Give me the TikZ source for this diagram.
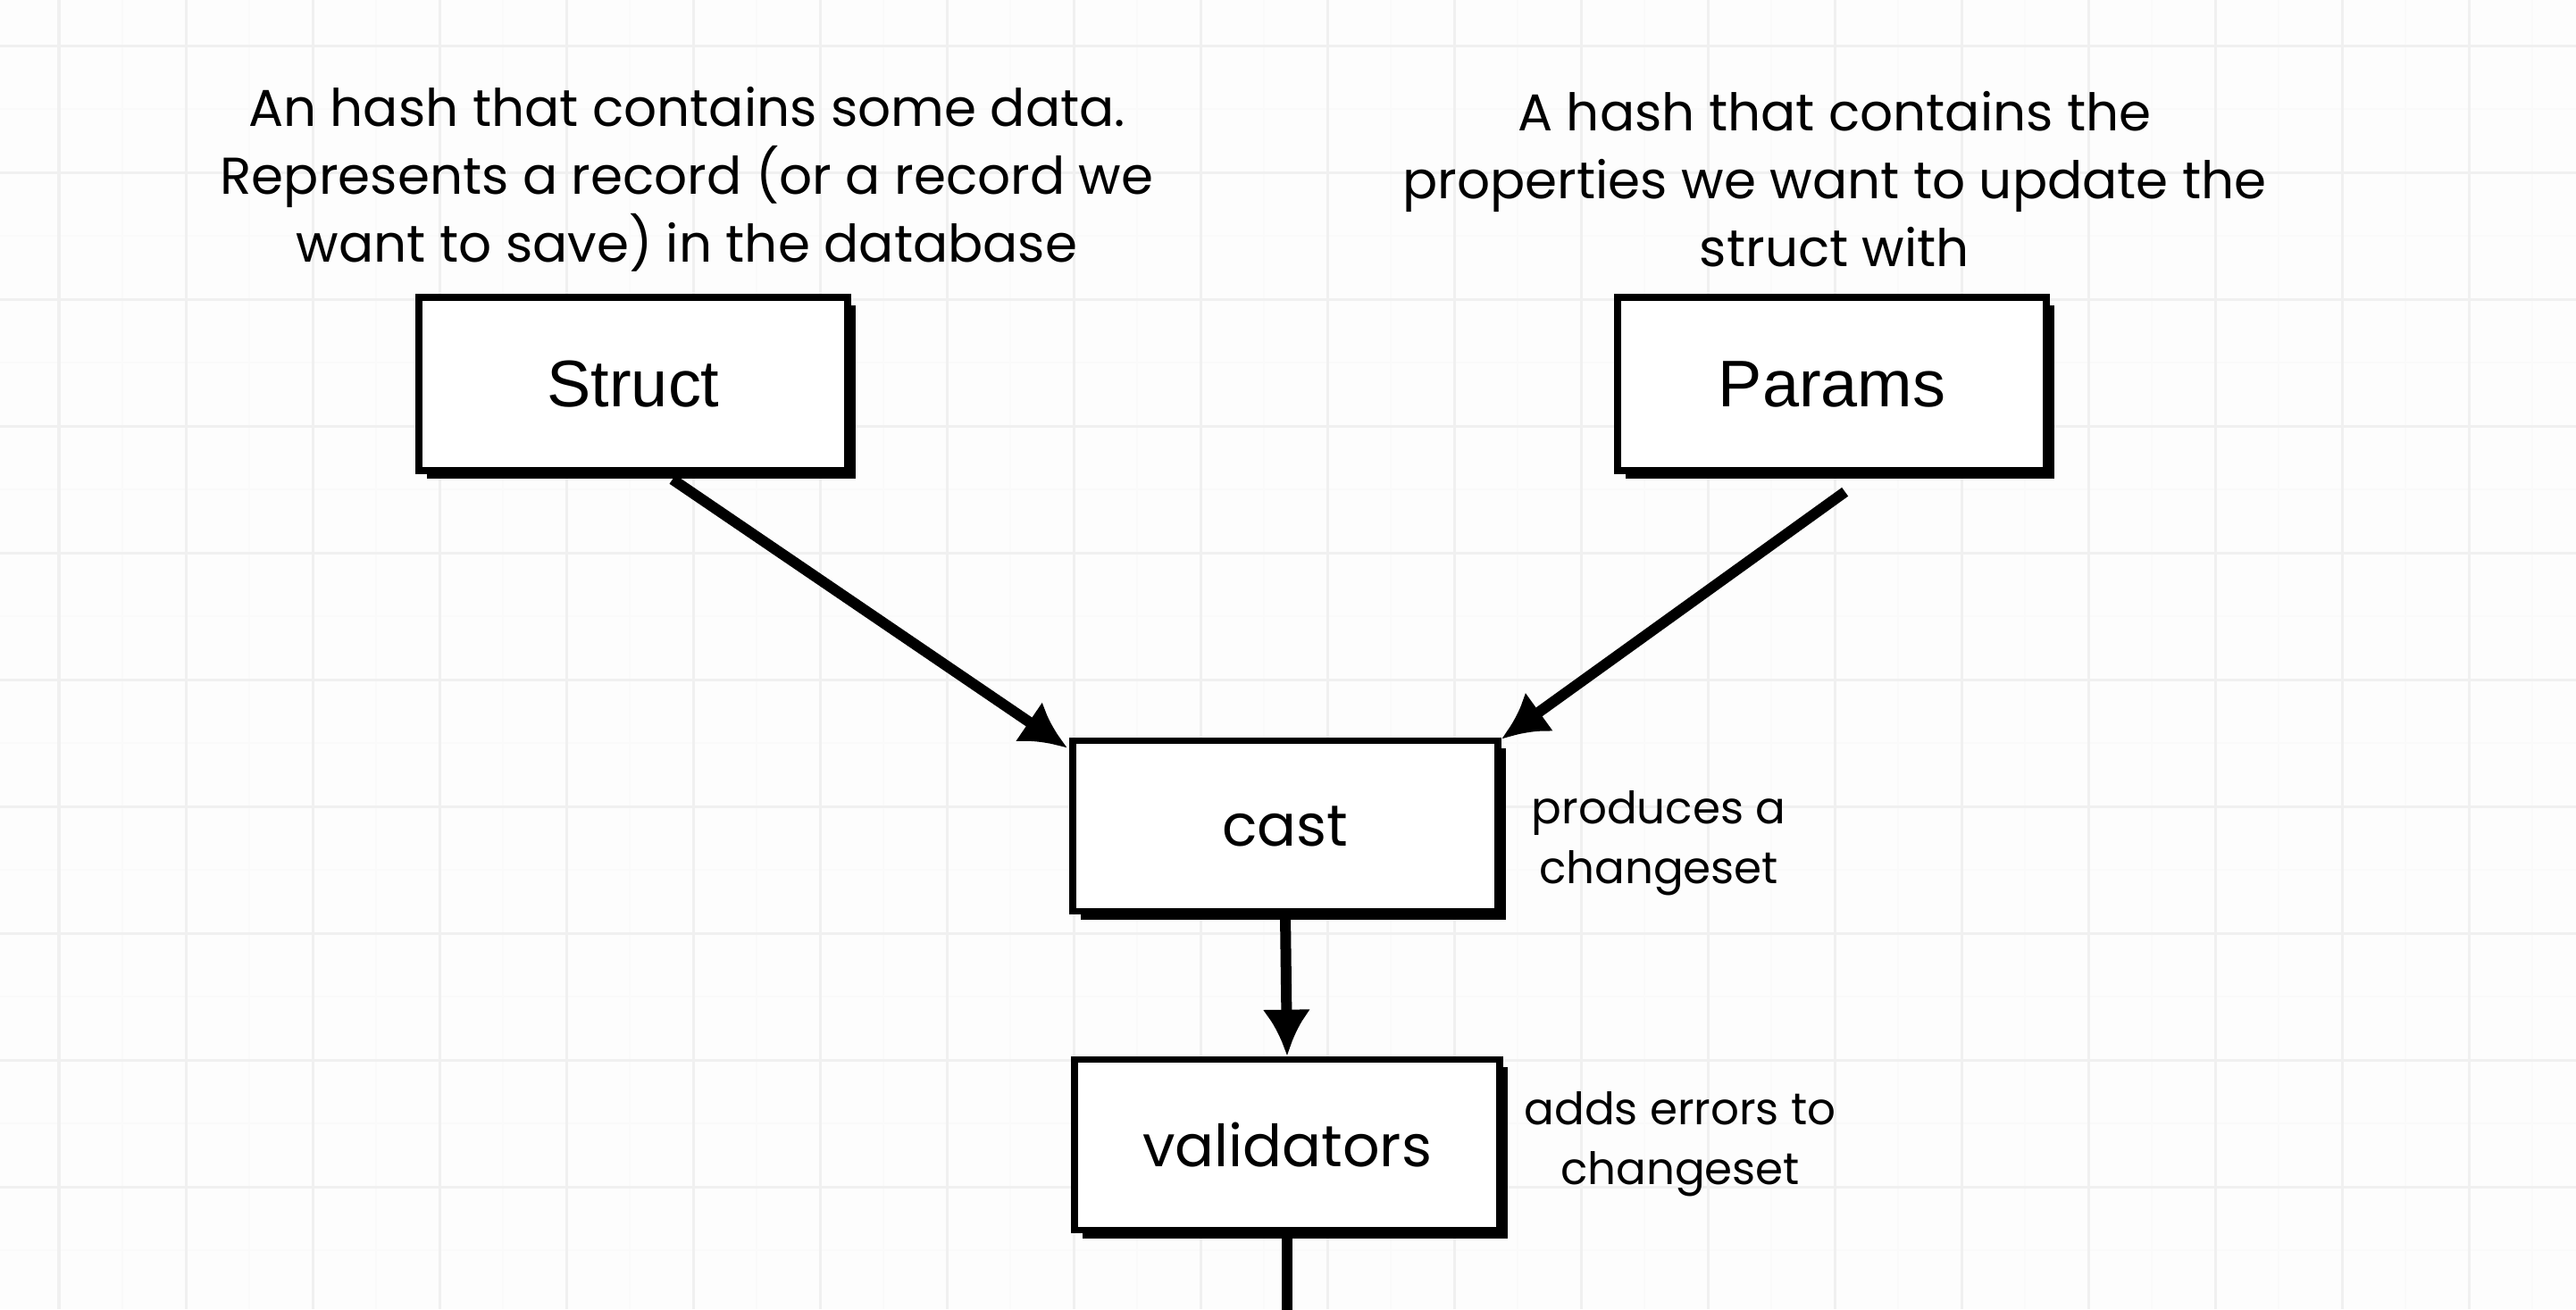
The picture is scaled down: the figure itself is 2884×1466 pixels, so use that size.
\documentclass[tikz,border=0pt]{standalone}
\usepackage{fontspec}
\setmainfont{Liberation Sans}
\newfontfamily\handfont{Poppins}
\usetikzlibrary{arrows.meta,calc,shadows}
\definecolor{bgcol}{HTML}{FDFDFD}
\definecolor{gridmaj}{HTML}{F0F0F0}
\definecolor{gridmin}{HTML}{FAFAFA}
\begin{document}
\begin{tikzpicture}[x=0.01cm,y=-0.01cm,
  box/.style={draw=black, line width=0.075cm, fill=white, inner sep=0pt,
    drop shadow={shadow xshift=0.09cm, shadow yshift=-0.09cm, fill=black, opacity=1}},
  bigbox/.style={box, minimum width=4.80cm, minimum height=1.94cm},
  smallbox/.style={box, minimum width=4.76cm, minimum height=1.91cm},
  arr/.style={line width=0.12cm, -{Latex[length=0.52cm,width=0.54cm]}},
  plain/.style={line width=0.12cm},
  note/.style={align=center, font=\handfont\fontsize{16.5}{21.6}\selectfont, inner sep=0pt},
  side/.style={align=center, font=\handfont\fontsize{14.2}{19}\selectfont, inner sep=0pt},
  boxlabel/.style={font=\fontsize{21}{25}\selectfont},
  handlabel/.style={font=\handfont\fontsize{18.5}{23}\selectfont}
]
\useasboundingbox (0,0) rectangle (2884,1466);
\fill[bgcol] (0,0) rectangle (2884,1466);
\foreach \gx in {-5,137,...,2900} {\draw[gridmin, line width=0.02cm] (\gx,0) -- (\gx,1466);}
\foreach \gy in {-20,122,...,1480} {\draw[gridmin, line width=0.02cm] (0,\gy) -- (2884,\gy);}
\foreach \gx in {66,208,...,2900} {\draw[gridmaj, line width=0.03cm] (\gx,0) -- (\gx,1466);}
\foreach \gy in {51,193,...,1480} {\draw[gridmaj, line width=0.03cm] (0,\gy) -- (2884,\gy);}

\node[note] (t1) at (769,201) {An hash that contains some data.\\Represents a record (or a record we\\want to save) in the database};
\node[note] (t2) at (2054,201) {A hash that contains the\\properties we want to update the\\struct with};

\node[bigbox] (struct) at (709,430) {};
\node[boxlabel] (structlbl) at (struct) {Struct};
\node[bigbox] (params) at (2051,430) {};
\node[boxlabel] (paramslbl) at (params) {Params};
\node[smallbox] (cast) at (1439,925) {};
\node[handlabel] (castlbl) at (cast) {cast};
\node[smallbox] (valid) at (1441,1282) {};
\node[handlabel] (validlbl) at (valid) {validators};

\node[side] (s1) at (1857,944) {produces a\\changeset};
\node[side] (s2) at (1881,1281) {adds errors to\\changeset};

\coordinate (exit) at (1441,1480);

\draw[arr] ($(struct.south west)!0.59!(struct.south east)+(0,6)$) -- ($(cast.north west)+(-2,12)$);
\draw[arr] ($(params.south west)!0.53!(params.south east)+(0,20)$) -- ($(cast.north east)+(0,2)$);
\draw[arr] (cast.south) -- (valid.north);
\draw[plain] (valid.south) -- (exit);
\end{tikzpicture}
\end{document}
